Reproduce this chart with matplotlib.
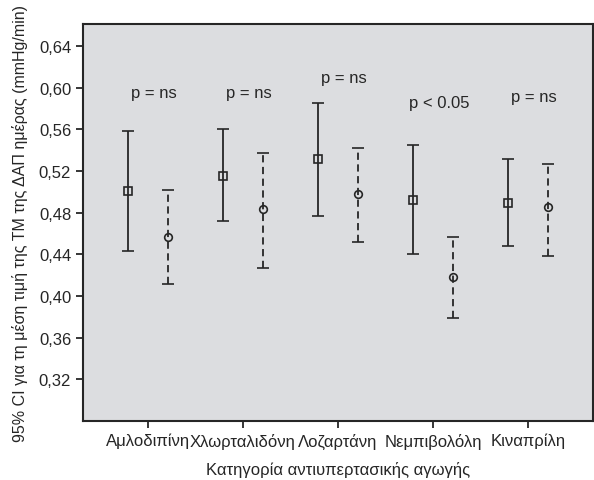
import matplotlib
matplotlib.use("Agg")
import matplotlib.pyplot as plt
import numpy as np

plt.rcParams['font.family'] = ['Liberation Sans', 'DejaVu Sans']

# drug categories
drugs = ["Αμλοδιπίνη", "Χλωρταλιδόνη", "Λοζαρτάνη", "Νεμπιβολόλη", "Κιναπρίλη"]

# first group (square, solid)
sq_mean = [0.501, 0.515, 0.531, 0.492, 0.489]
sq_low = [0.443, 0.472, 0.477, 0.440, 0.448]
sq_high = [0.558, 0.560, 0.585, 0.545, 0.531]

# second group (circle, dashed)
ci_mean = [0.457, 0.483, 0.498, 0.418, 0.485]
ci_low = [0.411, 0.427, 0.452, 0.379, 0.438]
ci_high = [0.502, 0.537, 0.542, 0.457, 0.527]

p_text = ["p = ns", "p = ns", "p = ns", "p < 0.05", "p = ns"]
p_y = [0.595, 0.595, 0.610, 0.586, 0.591]

x = np.arange(1, len(drugs) + 1)
off = 0.21
col = "#262626"

fig = plt.figure(figsize=(5.94, 4.81), dpi=100)
ax = fig.add_axes([0.1397, 0.1227, 0.8585, 0.8253])
ax.set_facecolor("#dcdde0")

sq_mean = np.array(sq_mean)
ci_mean = np.array(ci_mean)
yerr_sq = [sq_mean - np.array(sq_low), np.array(sq_high) - sq_mean]
yerr_ci = [ci_mean - np.array(ci_low), np.array(ci_high) - ci_mean]

ax.errorbar(x - off, sq_mean, yerr=yerr_sq, fmt="s", mfc="none", mec=col, ms=6,
            mew=1.2, ecolor=col, elinewidth=1.3, capsize=4, capthick=1.3)
eb = ax.errorbar(x + off, ci_mean, yerr=yerr_ci, fmt="o", mfc="none", mec=col, ms=5.5,
                 mew=1.2, ecolor=col, elinewidth=1.3, capsize=4, capthick=1.3)
eb[2][0].set_linestyle((0, (4, 2.5)))

for xi, t, yy in zip(x, p_text, p_y):
    ax.text(xi + 0.06, yy, t, ha="center", va="center", fontsize=12, color=col)

ax.set_xlim(0.32, 5.68)
ax.set_ylim(0.28, 0.661)
ax.set_yticks([0.32, 0.36, 0.40, 0.44, 0.48, 0.52, 0.56, 0.60, 0.64])
ax.set_yticklabels([f"{v:.2f}".replace(".", ",") for v in ax.get_yticks()])
ax.set_xticks(x)
ax.set_xticklabels(drugs)
ax.tick_params(axis="both", labelsize=12, colors=col, length=5, width=1.3,
               direction="out")
ax.tick_params(top=False, right=False)
for s in ax.spines.values():
    s.set_linewidth(1.5)
    s.set_color(col)

ax.set_xlabel("Κατηγορία αντιυπερτασικής αγωγής", fontsize=12, color=col, labelpad=9)
ax.set_ylabel("95% CI για τη μέση τιμή της ΤΜ της ΔΑΠ ημέρας (mmHg/min)",
              fontsize=11.5, color=col, labelpad=8)

fig.savefig("out.png", dpi=100)
